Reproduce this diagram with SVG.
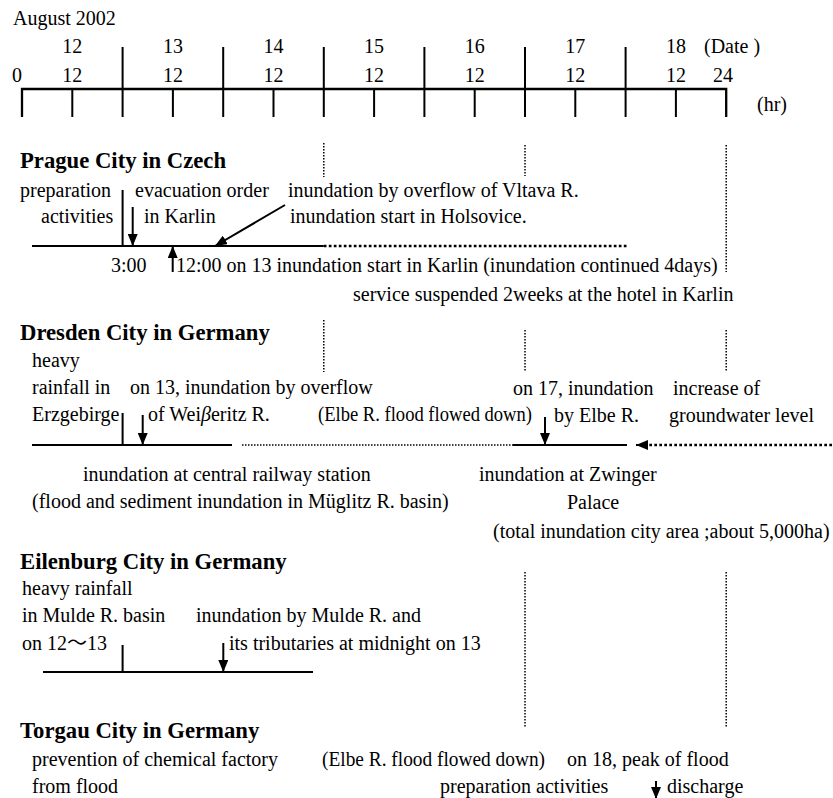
<svg xmlns="http://www.w3.org/2000/svg" width="833" height="798" viewBox="0 0 833 798">
<style>
.t{font-family:"Liberation Serif","Times New Roman","Noto Sans CJK JP",serif;font-size:20px;fill:#000}
.h{font-family:"Liberation Serif","Times New Roman",serif;font-size:22.7px;font-weight:bold;fill:#000}
.m{text-anchor:middle}
.ln{stroke:#000;stroke-width:2;fill:none}
.ax{stroke:#000;stroke-width:2.3;fill:none}
.dot{stroke:#000;stroke-width:1.5;stroke-dasharray:1.5 1.5;fill:none}
.dotb{stroke:#000;stroke-width:2.7;stroke-dasharray:2.7 2.3;fill:none}
.arr{stroke:#000;stroke-width:2;fill:none;marker-end:url(#ah)}
</style>
<defs>
<marker id="ah" markerUnits="userSpaceOnUse" viewBox="0 0 12 10" markerWidth="12" markerHeight="10" refX="12" refY="5" orient="auto"><path d="M0,0 L12,5 L0,10 Z" fill="#000"/></marker>
</defs>
<rect width="833" height="798" fill="#fff"/>

<g id="time-axis">
<text class="t" x="13" y="25">August 2002</text>
<path class="ax" d="M22,117 V89 H726.2 V117"/>
<path class="ln" d="M72.3,89 V117 M172.9,89 V117 M273.5,89 V117 M374.1,89 V117 M474.7,89 V117 M575.3,89 V117 M675.9,89 V117"/>
<path class="ln" d="M122.6,47 V117 M223.2,47 V117 M323.8,47 V117 M424.4,47 V117 M525,47 V117 M625.6,47 V117"/>
<text class="t m" x="72.3" y="53">12</text>
<text class="t m" x="172.9" y="53">13</text>
<text class="t m" x="273.5" y="53">14</text>
<text class="t m" x="374.1" y="53">15</text>
<text class="t m" x="474.7" y="53">16</text>
<text class="t m" x="575.3" y="53">17</text>
<text class="t m" x="675.9" y="53">18</text>
<text class="t" x="704" y="53">(Date )</text>
<text class="t m" x="17" y="81.5">0</text>
<text class="t m" x="72.3" y="81.5">12</text>
<text class="t m" x="172.9" y="81.5">12</text>
<text class="t m" x="273.5" y="81.5">12</text>
<text class="t m" x="374.1" y="81.5">12</text>
<text class="t m" x="474.7" y="81.5">12</text>
<text class="t m" x="575.3" y="81.5">12</text>
<text class="t m" x="675.9" y="81.5">12</text>
<text class="t m" x="723" y="81.5">24</text>
<text class="t" x="757" y="111">(hr)</text>
</g>

<g id="day-guides">
<path class="dot" d="M323.8,143 V177 M323.8,320 V372"/>
<path class="dot" d="M525,145 V176 M525,330 V372 M525,572 V728"/>
<path class="dot" d="M726.2,145 V272 M726.2,330 V372 M726.2,572 V728"/>
</g>

<g id="prague">
<text class="h" x="20" y="168">Prague City in Czech</text>
<text class="t" x="20" y="197">preparation</text>
<text class="t" x="135" y="197">evacuation order</text>
<text class="t" x="288" y="197">inundation by overflow of Vltava R.</text>
<text class="t" x="41" y="223">activities</text>
<text class="t" x="144" y="223">in Karlin</text>
<text class="t" x="290" y="223">inundation start in Holsovice.</text>
<text class="t" x="111" y="272">3:00</text>
<text class="t" x="176" y="272">12:00 on 13 inundation start in Karlin (inundation continued 4days)</text>
<text class="t" x="353" y="301">service suspended 2weeks at the hotel in Karlin</text>
<path class="ln" d="M32,246 H323.8 M122.6,190 V246"/>
<path class="dotb" d="M323.8,246 H628"/>
</g>

<g id="dresden">
<text class="h" x="20" y="340">Dresden City in Germany</text>
<text class="t" x="32" y="367">heavy</text>
<text class="t" x="32" y="394">rainfall in</text>
<text class="t" x="130" y="394">on 13, inundation by overflow</text>
<text class="t" x="32" y="421">Erzgebirge</text>
<text class="t" x="148" y="421">of Wei<tspan font-style="italic">β</tspan>eritz R.</text>
<text class="t" x="318" y="421" textLength="214" lengthAdjust="spacingAndGlyphs">(Elbe R. flood flowed down)</text>
<text class="t" x="513" y="395">on 17, inundation</text>
<text class="t" x="673" y="395">increase of</text>
<text class="t" x="554" y="422">by Elbe R.</text>
<text class="t" x="669" y="422">groundwater level</text>
<text class="t" x="83" y="481">inundation at central railway station</text>
<text class="t" x="32" y="508">(flood and sediment inundation in Müglitz R. basin)</text>
<text class="t" x="479" y="481">inundation at Zwinger</text>
<text class="t" x="567" y="509">Palace</text>
<text class="t" x="493" y="538">(total inundation city area ;about 5,000ha)</text>
<path class="ln" d="M32,445 H232 M122.6,413 V445 M513,445 H627"/>
<path class="dot" d="M242,445 H513"/>
</g>

<g id="eilenburg">
<text class="h" x="20" y="569">Eilenburg City in Germany</text>
<text class="t" x="22" y="595">heavy rainfall</text>
<text class="t" x="22" y="622">in Mulde R. basin</text>
<text class="t" x="196" y="622">inundation by Mulde R. and</text>
<text class="t" x="22" y="650">on 12～13</text>
<text class="t" x="229" y="650">its tributaries at midnight on 13</text>
<path class="ln" d="M43,672 H313 M122.6,645 V672"/>
</g>

<g id="torgau">
<text class="h" x="20" y="738">Torgau City in Germany</text>
<text class="t" x="32" y="766">prevention of chemical factory</text>
<text class="t" x="32" y="793">from flood</text>
<text class="t" x="322" y="766" textLength="223" lengthAdjust="spacingAndGlyphs">(Elbe R. flood flowed down)</text>
<text class="t" x="567" y="766">on 18, peak of flood</text>
<text class="t" x="440" y="793">preparation activities</text>
<text class="t" x="667" y="793">discharge</text>
</g>

<g id="connectors">
<line class="arr" x1="132.7" y1="207" x2="132.7" y2="246"/>
<line class="arr" x1="172.7" y1="272" x2="172.7" y2="246"/>
<line class="arr" x1="285" y1="205" x2="215" y2="246"/>
<line class="arr" x1="142.7" y1="415" x2="142.7" y2="445"/>
<line class="arr" x1="545" y1="417" x2="545" y2="445"/>
<line class="dotb" x1="832" y1="445" x2="648" y2="445"/>
<line class="arr" x1="648" y1="445" x2="636" y2="445"/>
<line class="arr" x1="223.3" y1="643" x2="223.3" y2="672"/>
<line class="arr" x1="656" y1="781" x2="656" y2="799"/>
</g>
</svg>
